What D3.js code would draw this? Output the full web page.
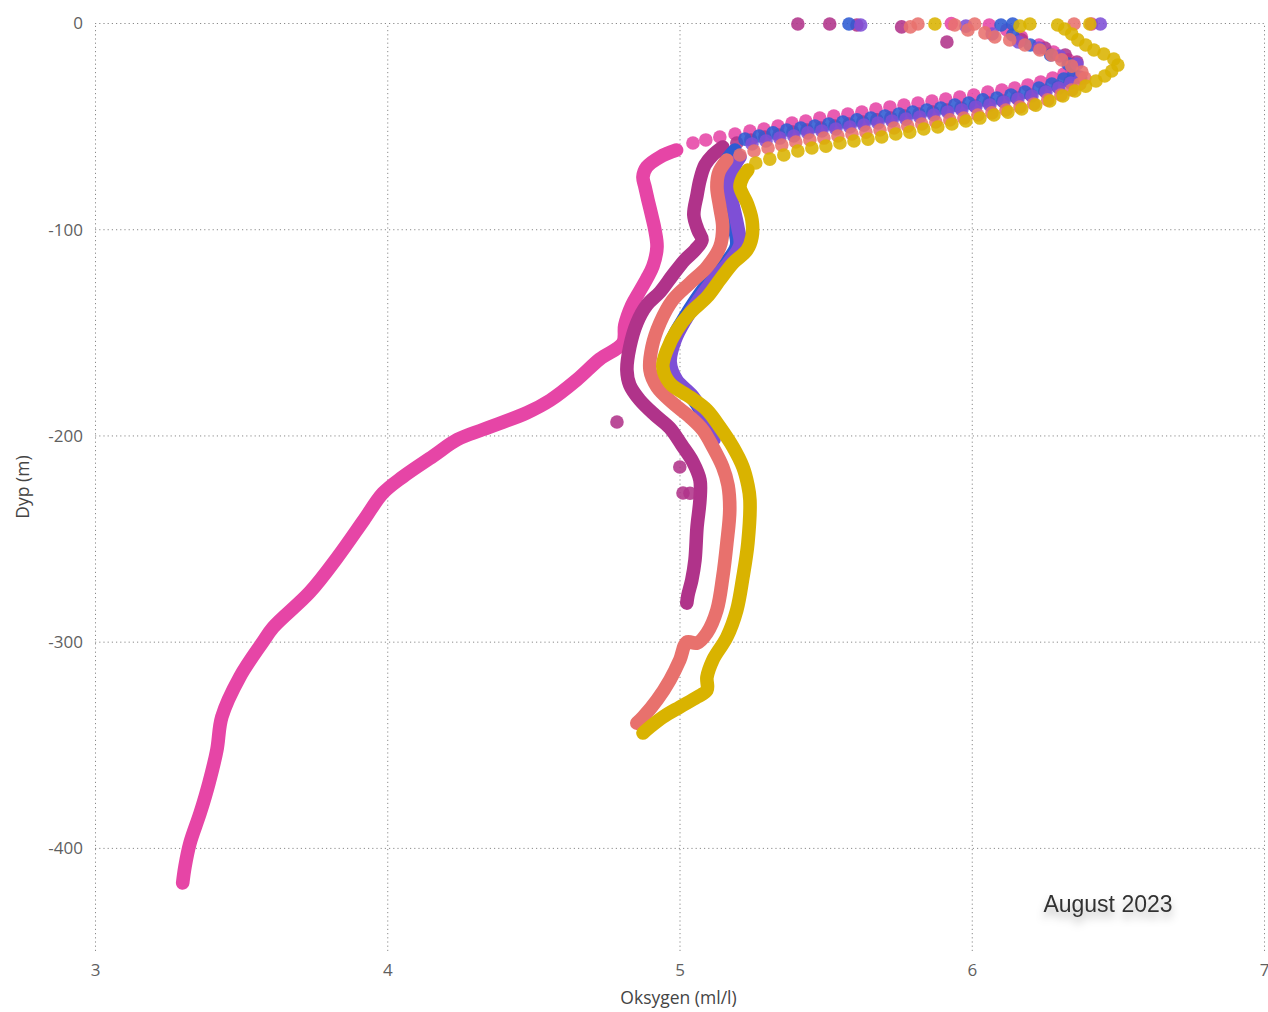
<!DOCTYPE html>
<html>
<head>
<meta charset="utf-8">
<script src="https://cdn.jsdelivr.net/npm/d3@7"></script>
<style>
  html, body { margin: 0; padding: 0; background: #fff; }
  svg { display: block; }
  .tick text { fill: #5f5f5f; }
</style>
</head>
<body>
<svg id="chart" width="1268" height="1012"></svg>
<script>
// Oxygen profiles, August 2023: [oxygen (ml/l), depth (m)]
const xTicks = [3, 4, 5, 6, 7];
const yTicks = [0, -100, -200, -300, -400];

// --- pink station ---
const pinkDots = [
  [5.046,-58.2],[5.090,-56.7],[5.138,-55.3],[5.190,-53.8],[5.241,-52.4],[5.289,-51.4],
  [5.337,-50.0],[5.385,-48.5],[5.432,-47.5],[5.480,-46.1],[5.528,-45.1],[5.576,-44.1],
  [5.624,-43.2],[5.672,-41.7],[5.720,-40.7],[5.768,-39.8],[5.816,-38.8],[5.864,-37.8],
  [5.911,-36.9],[5.959,-35.9],[6.007,-34.9],[6.055,-33.5],[6.103,-32.5],[6.147,-31.5],
  [6.192,-30.1],[6.236,-28.6],[6.277,-26.7],[6.315,-24.7],[6.342,-22.8],[6.33,-17.9],
  [6.28,-14.1],[6.23,-10.7],[6.17,-6.8],[6.12,-3.4],[6.06,-1.0],[6.41,-0.5],[5.93,-0.3]
];
const pinkProfile = [
  [4.990,-61.6],[4.933,-65.0],[4.888,-69.8],[4.875,-74.7],[4.882,-79.5],[4.892,-85.8],
  [4.906,-94.0],[4.916,-100.4],[4.923,-108.6],[4.909,-118.0],[4.888,-124.0],[4.860,-131.0],
  [4.837,-136.8],[4.813,-146.5],[4.806,-155.2],[4.727,-163.0],[4.649,-173.0],[4.557,-183.0],
  [4.478,-189.0],[4.330,-197.0],[4.240,-202.0],[4.157,-210.0],[4.054,-220.0],[3.985,-228.0],
  [3.920,-241.0],[3.830,-259.0],[3.735,-276.0],[3.610,-293.0],[3.575,-300.0],[3.496,-317.0],
  [3.434,-336.5],[3.417,-352.5],[3.390,-368.5],[3.360,-383.0],[3.325,-397.7],[3.308,-409.0],
  [3.300,-417.0]
];

// --- dark magenta station ---
const magentaDots = [
  [5.196,-58.2],[5.244,-56.7],[5.292,-55.3],[5.340,-54.3],[5.388,-52.9],[5.436,-51.9],
  [5.484,-50.9],[5.532,-50.0],[5.580,-49.0],[5.627,-48.0],[5.675,-47.0],[5.723,-46.1],
  [5.771,-45.1],[5.819,-44.1],[5.867,-43.2],[5.915,-42.2],[5.963,-41.2],[6.011,-40.3],
  [6.059,-38.8],[6.106,-37.8],[6.154,-36.4],[6.202,-34.9],[6.250,-33.0],[6.295,-31.0],
  [6.336,-28.6],[6.370,-26.2],[6.36,-18.9],[6.32,-15.5],[6.25,-12.1],[6.17,-8.2],
  [5.915,-9.2],[5.76,-1.9],[5.607,-1.0],[5.514,-0.5],[5.405,-0.5],
  [4.786,-193.5],[5.001,-215.3],[5.012,-227.9],[5.036,-228.0]
];
const magentaProfile = [
  [5.148,-60.1],[5.114,-64.0],[5.087,-68.9],[5.070,-76.1],[5.060,-83.4],[5.049,-93.1],
  [5.063,-100.4],[5.077,-105.2],[5.053,-110.1],[5.018,-114.9],[4.977,-122.2],[4.933,-130.5],
  [4.888,-136.8],[4.854,-145.5],[4.830,-157.1],[4.820,-168.3],[4.830,-175.6],[4.864,-182.8],
  [4.916,-190.1],[4.967,-196.4],[5.008,-204.7],[5.046,-212.9],[5.070,-221.6],[5.070,-231.3],
  [5.060,-244.4],[5.053,-260.4],[5.042,-270.1],[5.029,-277.4],[5.025,-281.3]
];

// --- blue station ---
const blueDots = [
  [5.224,-56.3],[5.272,-54.8],[5.320,-53.3],[5.367,-51.9],[5.415,-50.9],[5.463,-50.0],
  [5.511,-49.0],[5.559,-48.0],[5.607,-47.0],[5.655,-46.1],[5.703,-45.1],[5.751,-44.1],
  [5.798,-43.2],[5.846,-42.2],[5.894,-41.2],[5.942,-39.8],[5.990,-38.8],[6.038,-37.3],
  [6.086,-36.4],[6.134,-34.9],[6.182,-33.5],[6.230,-31.5],[6.274,-29.6],[6.315,-27.2],
  [6.349,-24.7],[6.33,-19.9],[6.27,-15.5],[6.20,-10.7],[6.14,-5.8],[6.10,-1.0],
  [6.14,-0.5],[5.58,-0.5]
];
const blueProfile = [
  [5.190,-61.6],[5.162,-66.4],[5.145,-72.3],[5.159,-81.0],[5.179,-90.7],[5.190,-100.4],
  [5.195,-108.0],[5.160,-116.0],[5.105,-124.6],[5.055,-134.3],[5.012,-144.0],[4.975,-153.7],
  [4.960,-164.4],[4.985,-173.1],[5.040,-181.0],[5.080,-190.1],[5.098,-197.0]
];

// --- purple station ---
const purpleDots = [
  [5.248,-58.7],[5.296,-57.2],[5.343,-55.8],[5.391,-54.8],[5.439,-53.3],[5.487,-52.4],
  [5.535,-51.4],[5.583,-50.4],[5.631,-49.5],[5.679,-48.5],[5.727,-47.5],[5.775,-46.6],
  [5.822,-45.6],[5.870,-44.6],[5.918,-43.2],[5.966,-42.2],[6.014,-40.7],[6.062,-39.8],
  [6.110,-38.3],[6.158,-36.9],[6.206,-35.4],[6.254,-33.5],[6.298,-31.5],[6.339,-29.1],
  [6.373,-26.7],[6.36,-19.9],[6.30,-16.0],[6.23,-12.1],[6.16,-9.2],[6.07,-5.3],
  [5.98,-1.5],[5.62,-1.0],[6.44,-0.5]
];
const purpleProfile = [
  [5.207,-65.0],[5.190,-68.9],[5.166,-78.6],[5.183,-88.3],[5.200,-99.4],[5.207,-107.7],
  [5.170,-115.9],[5.115,-124.6],[5.065,-134.3],[5.020,-144.0],[4.985,-153.7],[4.968,-164.4],
  [4.990,-173.1],[5.045,-181.0],[5.085,-190.1],[5.105,-197.0],[5.118,-202.0]
];

// --- salmon station ---
const salmonDots = [
  [5.207,-64.0],[5.255,-62.1],[5.303,-60.6],[5.350,-59.2],[5.398,-57.7],[5.446,-56.7],
  [5.494,-55.8],[5.542,-54.8],[5.590,-53.8],[5.638,-52.9],[5.686,-51.9],[5.734,-50.9],
  [5.781,-50.0],[5.829,-49.0],[5.877,-48.0],[5.925,-47.0],[5.973,-46.1],[6.021,-44.6],
  [6.069,-43.6],[6.117,-42.2],[6.165,-40.7],[6.212,-39.3],[6.260,-37.3],[6.305,-34.9],
  [6.342,-32.5],[6.370,-29.6],[6.387,-26.7],[6.377,-23.8],[6.342,-20.9],[6.308,-17.9],
  [6.274,-15.5],[6.233,-13.1],[6.182,-10.7],[6.130,-8.2],[6.079,-6.8],[6.045,-4.8],
  [5.987,-3.4],[5.942,-1.0],[5.816,-0.5],[5.79,-1.9],[6.01,-0.5],[6.35,-0.5]
];
const salmonProfile = [
  [5.162,-66.4],[5.135,-72.3],[5.128,-79.5],[5.138,-89.2],[5.148,-98.9],[5.138,-108.6],
  [5.094,-118.3],[5.036,-126.1],[4.977,-134.3],[4.933,-145.5],[4.906,-157.1],[4.899,-168.3],
  [4.923,-176.5],[4.977,-184.3],[5.036,-191.1],[5.080,-197.4],[5.114,-205.6],[5.148,-215.3],
  [5.166,-224.1],[5.172,-236.2],[5.162,-252.2],[5.148,-268.7],[5.128,-284.7],[5.094,-295.8],
  [5.060,-300.7],[5.025,-300.2],[5.001,-308.9],[4.967,-318.6],[4.923,-328.3],[4.875,-336.6],
  [4.854,-339.5]
];

// --- gold station ---
const goldDots = [
  [5.261,-67.9],[5.309,-66.0],[5.357,-64.0],[5.405,-62.1],[5.453,-60.6],[5.501,-59.7],
  [5.549,-58.2],[5.597,-57.2],[5.645,-56.3],[5.692,-55.3],[5.740,-53.8],[5.788,-52.9],
  [5.836,-51.4],[5.884,-50.4],[5.932,-49.0],[5.980,-47.5],[6.028,-46.1],[6.076,-44.6],
  [6.124,-43.2],[6.171,-41.7],[6.219,-39.8],[6.267,-37.8],[6.312,-35.4],[6.353,-33.0],
  [6.390,-30.6],[6.425,-28.1],[6.455,-25.7],[6.479,-23.3],[6.500,-20.4],[6.486,-17.5],
  [6.452,-15.0],[6.418,-13.1],[6.390,-10.7],[6.363,-8.2],[6.342,-5.3],[6.318,-2.9],
  [6.294,-1.0],[6.199,-0.5],[6.404,-0.5],[5.874,-0.5],[6.165,-1.5]
];
const goldProfile = [
  [5.234,-71.3],[5.217,-74.7],[5.207,-79.5],[5.231,-87.3],[5.248,-95.5],[5.248,-103.8],
  [5.231,-110.1],[5.183,-116.4],[5.138,-124.6],[5.094,-132.9],[5.036,-140.6],[4.991,-148.9],
  [4.957,-158.6],[4.943,-166.8],[4.967,-174.6],[5.036,-181.4],[5.094,-187.7],[5.138,-195.9],
  [5.183,-205.6],[5.217,-215.3],[5.234,-224.1],[5.241,-231.3],[5.234,-252.2],[5.217,-268.7],
  [5.196,-284.7],[5.162,-297.8],[5.114,-308.9],[5.094,-317.2],[5.094,-323.5],[5.060,-326.9],
  [5.001,-331.7],[4.943,-336.6],[4.899,-341.4],[4.875,-344.3]
];

const stations = [
  { key: "pink",    color: "#E645A6", dots: pinkDots,    profile: pinkProfile },
  { key: "magenta", color: "#B0338A", dots: magentaDots, profile: magentaProfile },
  { key: "blue",    color: "#2D5BD3", dots: blueDots,    profile: blueProfile },
  { key: "purple",  color: "#7E4FD6", dots: purpleDots,  profile: purpleProfile },
  { key: "salmon",  color: "#E8716D", dots: salmonDots,  profile: salmonProfile },
  { key: "gold",    color: "#D9B300", dots: goldDots,    profile: goldProfile }
];

const svg = d3.select("#chart");
const margin = { left: 95, right: 4, top: 23, bottom: 61 };
const W = 1268, H = 1012;

const x = d3.scaleLinear().domain([3, 7]).range([margin.left, W - margin.right]);
const y = d3.scaleLinear().domain([-450, 0]).range([H - margin.bottom, margin.top]);

const dotR = 6.8;

// grid + axes
const gx = svg.append("g")
  .attr("transform", `translate(0,${y(-450)})`)
  .call(d3.axisBottom(x).tickValues(xTicks).tickFormat(d => String(d))
    .tickSizeInner(-(y(-450) - y(0))).tickSizeOuter(0).tickPadding(13));
const gy = svg.append("g")
  .attr("transform", `translate(${x(3)},0)`)
  .call(d3.axisLeft(y).tickValues(yTicks).tickFormat(d => String(d))
    .tickSizeInner(-(x(7) - x(3))).tickSizeOuter(0).tickPadding(12));

[gx, gy].forEach(g => {
  g.select(".domain").remove();
  g.selectAll(".tick line")
    .attr("stroke", "#8a8a8a")
    .attr("stroke-width", 1)
    .attr("stroke-dasharray", "1.2,3");
});
gx.selectAll(".tick text")
  .attr("font-family", "'Open Sans', sans-serif")
  .attr("font-size", 17);
gy.selectAll(".tick text")
  .attr("font-family", "'Open Sans', sans-serif")
  .attr("font-size", 17)
  .attr("dy", "0.35em");

// axis titles
svg.append("text")
  .attr("x", (x(3) + x(7)) / 2 - 1)
  .attr("y", 1004)
  .attr("text-anchor", "middle")
  .attr("font-family", "'Open Sans', sans-serif")
  .attr("font-size", 17.5)
  .attr("fill", "#444")
  .text("Oksygen (ml/l)");

svg.append("text")
  .attr("transform", `translate(29,${(y(0) + y(-450)) / 2}) rotate(-90)`)
  .attr("text-anchor", "middle")
  .attr("font-family", "'Open Sans', sans-serif")
  .attr("font-size", 17.5)
  .attr("fill", "#444")
  .text("Dyp (m)");

// station profiles
const line = d3.line()
  .x(d => x(d[0]))
  .y(d => y(d[1]))
  .curve(d3.curveCatmullRom.alpha(0.5));

const marks = svg.append("g");
stations.forEach(s => {
  const g = marks.append("g").attr("class", "station-" + s.key);
  g.append("path")
    .datum(s.profile)
    .attr("d", line)
    .attr("fill", "none")
    .attr("stroke", s.color)
    .attr("stroke-width", dotR * 2)
    .attr("stroke-linecap", "round")
    .attr("stroke-linejoin", "round");
  g.selectAll("circle")
    .data(s.dots)
    .join("circle")
    .attr("cx", d => x(d[0]))
    .attr("cy", d => y(d[1]))
    .attr("r", dotR)
    .attr("fill", s.color)
    .attr("fill-opacity", 0.88);
});

// date label with soft shadow
const defs = svg.append("defs");
const f = defs.append("filter").attr("id", "soft").attr("x", "-20%").attr("y", "-40%")
  .attr("width", "140%").attr("height", "220%");
f.append("feDropShadow").attr("dx", 0).attr("dy", 6).attr("stdDeviation", 4)
  .attr("flood-color", "#000").attr("flood-opacity", 0.3);

svg.append("text")
  .attr("x", 1108)
  .attr("y", 912)
  .attr("text-anchor", "middle")
  .attr("font-family", "'Liberation Sans', Arial, sans-serif")
  .attr("font-size", 23)
  .attr("fill", "#333")
  .attr("filter", "url(#soft)")
  .text("August 2023");
</script>
</body>
</html>
